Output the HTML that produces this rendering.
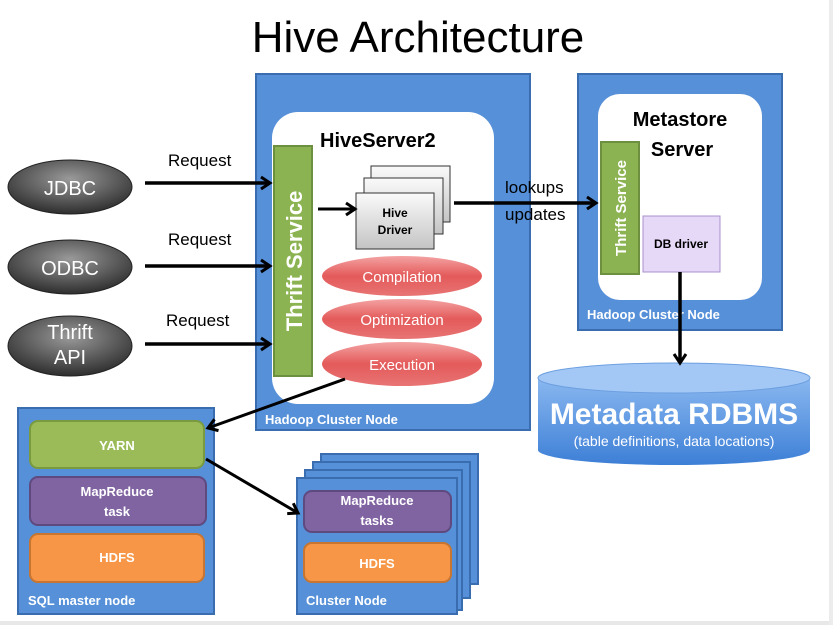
<!DOCTYPE html>
<html><head><meta charset="utf-8"><style>
html,body{margin:0;padding:0;background:#fff;width:833px;height:625px;overflow:hidden}
text{font-family:"Liberation Sans",sans-serif}
</style></head><body>
<svg width="833" height="625" viewBox="0 0 833 625" xmlns="http://www.w3.org/2000/svg">
<defs>
<radialGradient id="dk" cx="0.5" cy="0.35" r="0.65"><stop offset="0" stop-color="#9a9a9a"/><stop offset="1" stop-color="#2e2e2e"/></radialGradient>
<linearGradient id="red" x1="0" y1="0" x2="0" y2="1"><stop offset="0" stop-color="#f4a3a3"/><stop offset="0.5" stop-color="#e45a5a"/><stop offset="1" stop-color="#e87474"/></linearGradient>
<linearGradient id="gr" x1="0" y1="0" x2="0" y2="1"><stop offset="0" stop-color="#fafafa"/><stop offset="1" stop-color="#c4c4c4"/></linearGradient>
<linearGradient id="cyl" x1="0" y1="0" x2="0" y2="1"><stop offset="0" stop-color="#8ab8f0"/><stop offset="1" stop-color="#3d7fd6"/></linearGradient>
<marker id="ah" markerWidth="14" markerHeight="16" refX="11" refY="8" orient="auto" markerUnits="userSpaceOnUse"><path d="M2,2 L11,8 L2,14" fill="none" stroke="#000" stroke-width="3"/></marker>
</defs>
<rect x="0" y="621" width="833" height="4" fill="#e8e8e8"/>
<rect x="829" y="0" width="4" height="625" fill="#ececec"/>
<text x="418" y="52" font-size="44" text-anchor="middle" fill="#000">Hive Architecture</text>

<!-- client ellipses -->
<ellipse cx="70" cy="187" rx="62" ry="27" fill="url(#dk)" stroke="#222"/>
<text x="70" y="195" font-size="20" fill="#fff" text-anchor="middle">JDBC</text>
<ellipse cx="70" cy="267" rx="62" ry="27" fill="url(#dk)" stroke="#222"/>
<text x="70" y="275" font-size="20" fill="#fff" text-anchor="middle">ODBC</text>
<ellipse cx="70" cy="346" rx="62" ry="30" fill="url(#dk)" stroke="#222"/>
<text x="70" y="339" font-size="20" fill="#fff" text-anchor="middle">Thrift</text>
<text x="70" y="364" font-size="20" fill="#fff" text-anchor="middle">API</text>

<text x="168" y="166" font-size="17">Request</text>
<text x="168" y="245" font-size="17">Request</text>
<text x="166" y="326" font-size="17">Request</text>

<!-- HiveServer box -->
<rect x="256" y="74" width="274" height="356" fill="#5690d8" stroke="#3a6cb0" stroke-width="2"/>
<rect x="272" y="112" width="222" height="292" rx="26" fill="#fff"/>
<rect x="274" y="146" width="38" height="230" fill="#8cb351" stroke="#6c9040" stroke-width="2"/>
<text transform="translate(302,261) rotate(-90)" font-size="22" font-weight="bold" fill="#fff" text-anchor="middle">Thrift Service</text>
<text x="320" y="147" font-size="20" font-weight="bold">HiveServer2</text>
<rect x="371" y="166" width="79" height="56" fill="url(#gr)" stroke="#333"/>
<rect x="364" y="178" width="79" height="56" fill="url(#gr)" stroke="#333"/>
<rect x="356" y="193" width="78" height="56" fill="url(#gr)" stroke="#333"/>
<text x="395" y="217" font-size="12" font-weight="bold" text-anchor="middle">Hive</text>
<text x="395" y="234" font-size="12" font-weight="bold" text-anchor="middle">Driver</text>
<ellipse cx="402" cy="276" rx="80" ry="20" fill="url(#red)"/>
<text x="402" y="282" font-size="15" fill="#fff" text-anchor="middle">Compilation</text>
<ellipse cx="402" cy="319" rx="80" ry="20" fill="url(#red)"/>
<text x="402" y="325" font-size="15" fill="#fff" text-anchor="middle">Optimization</text>
<ellipse cx="402" cy="364" rx="80" ry="22" fill="url(#red)"/>
<text x="402" y="370" font-size="15" fill="#fff" text-anchor="middle">Execution</text>
<text x="265" y="424" font-size="13" font-weight="bold" fill="#fff">Hadoop Cluster Node</text>

<!-- Metastore -->
<rect x="578" y="74" width="204" height="256" fill="#5690d8" stroke="#3a6cb0" stroke-width="2"/>
<rect x="598" y="94" width="164" height="206" rx="22" fill="#fff"/>
<rect x="601" y="142" width="38" height="132" fill="#8cb351" stroke="#6c9040" stroke-width="2"/>
<text transform="translate(626,208) rotate(-90)" font-size="15" font-weight="bold" fill="#fff" text-anchor="middle">Thrift Service</text>
<text x="680" y="126" font-size="20" font-weight="bold" text-anchor="middle">Metastore</text>
<text x="682" y="156" font-size="20" font-weight="bold" text-anchor="middle">Server</text>
<rect x="643" y="216" width="77" height="56" fill="#e6d8f7" stroke="#a890c8"/>
<text x="681" y="248" font-size="12" font-weight="bold" text-anchor="middle">DB driver</text>
<text x="587" y="319" font-size="13" font-weight="bold" fill="#fff">Hadoop Cluster Node</text>

<!-- cylinder -->
<path d="M538,378 L538,450 A136,15 0 0 0 810,450 L810,378" fill="url(#cyl)"/>
<ellipse cx="674" cy="378" rx="136" ry="15" fill="#a3c8f5" stroke="#6d9fe0"/>
<text x="674" y="424" font-size="30" font-weight="bold" fill="#fff" text-anchor="middle">Metadata RDBMS</text>
<text x="674" y="446" font-size="14" fill="#fff" text-anchor="middle">(table definitions, data locations)</text>

<!-- SQL master -->
<rect x="18" y="408" width="196" height="206" fill="#5690d8" stroke="#3a6cb0" stroke-width="2"/>
<rect x="30" y="421" width="174" height="47" rx="8" fill="#9bbb59" stroke="#7a9a40" stroke-width="2"/>
<text x="117" y="450" font-size="13" font-weight="bold" fill="#fff" text-anchor="middle">YARN</text>
<rect x="30" y="477" width="176" height="48" rx="8" fill="#8064a2" stroke="#5f4a80" stroke-width="2"/>
<text x="117" y="496" font-size="13" font-weight="bold" fill="#fff" text-anchor="middle">MapReduce</text>
<text x="117" y="516" font-size="13" font-weight="bold" fill="#fff" text-anchor="middle">task</text>
<rect x="30" y="534" width="174" height="48" rx="8" fill="#f79646" stroke="#c77530" stroke-width="2"/>
<text x="117" y="562" font-size="13" font-weight="bold" fill="#fff" text-anchor="middle">HDFS</text>
<text x="28" y="605" font-size="13" font-weight="bold" fill="#fff">SQL master node</text>

<!-- cluster nodes -->
<rect x="321" y="454" width="157" height="130" fill="#5690d8" stroke="#3a6cb0" stroke-width="2"/>
<rect x="313" y="462" width="157" height="136" fill="#5690d8" stroke="#3a6cb0" stroke-width="2"/>
<rect x="305" y="470" width="157" height="140" fill="#5690d8" stroke="#3a6cb0" stroke-width="2"/>
<rect x="297" y="478" width="160" height="136" fill="#5690d8" stroke="#3a6cb0" stroke-width="2"/>
<rect x="304" y="491" width="147" height="41" rx="8" fill="#8064a2" stroke="#5f4a80" stroke-width="2"/>
<text x="377" y="505" font-size="13" font-weight="bold" fill="#fff" text-anchor="middle">MapReduce</text>
<text x="377" y="525" font-size="13" font-weight="bold" fill="#fff" text-anchor="middle">tasks</text>
<rect x="304" y="543" width="147" height="39" rx="8" fill="#f79646" stroke="#c77530" stroke-width="2"/>
<text x="377" y="568" font-size="13" font-weight="bold" fill="#fff" text-anchor="middle">HDFS</text>
<text x="306" y="605" font-size="13" font-weight="bold" fill="#fff">Cluster Node</text>

<!-- arrows on top -->
<text x="505" y="193" font-size="17">lookups</text>
<text x="505" y="220" font-size="17">updates</text>
<g stroke="#000" stroke-width="3.5" fill="none" marker-end="url(#ah)">
<line x1="145" y1="183" x2="270" y2="183"/>
<line x1="145" y1="266" x2="270" y2="266"/>
<line x1="145" y1="344" x2="270" y2="344"/>
<line x1="318" y1="209" x2="355" y2="209" stroke-width="3"/>
<line x1="454" y1="203" x2="596" y2="203"/>
<line x1="680" y1="272" x2="680" y2="363"/>
<line x1="345" y1="379" x2="208" y2="428" stroke-width="3"/>
<line x1="206" y1="459" x2="298" y2="513" stroke-width="3"/>
</g>
</svg>
</body></html>
